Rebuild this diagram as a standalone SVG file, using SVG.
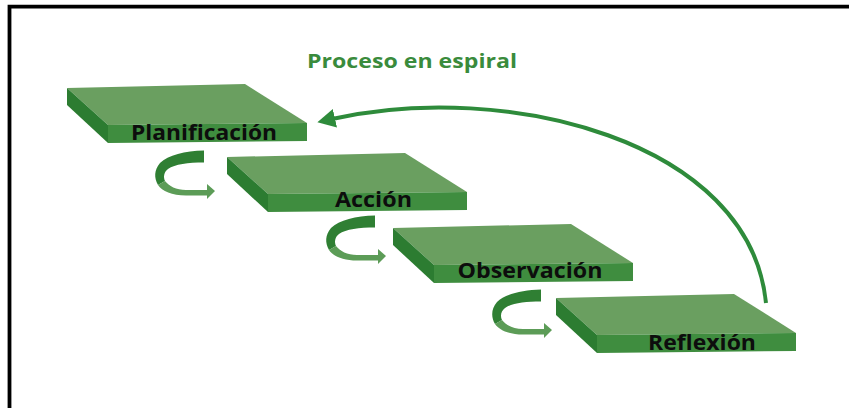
<svg xmlns="http://www.w3.org/2000/svg" width="849" height="408" viewBox="0 0 849 408">
<defs>
<style>
.top{fill:#6a9f60}
.front{fill:#3f8d3f}
.side{fill:#2c7c31}
.lbl{font-family:"Open Sans","Noto Sans","DejaVu Sans",sans-serif;font-weight:700;font-size:21px;fill:#0d0d0d;text-anchor:middle}
.title{font-family:"Open Sans","Noto Sans","DejaVu Sans",sans-serif;font-weight:700;font-size:20px;fill:#3a8b3c;text-anchor:middle}
.arc{fill:none;stroke:#2e8b3b;stroke-width:4}
.cdark{fill:#2f7f33}
.clight{fill:#5c9c57}
</style>
<g id="slab">
<path class="top" d="M0,0 L178,-4 L240,35 L41,37 Z"/>
<path class="front" d="M41,37 L240,35 L240,53 L41,55 Z"/>
<path class="side" d="M0,0 L41,37 L41,55 L0,17 Z"/>
</g>
<g id="loop">
<path class="cdark" d="M204,150.5 C185,151 168,155 160,163 C154,170 154,178 158,185 L165,181 C163,177 164,172 168,169 C175,164 188,162.5 204,162.5 Z"/>
<path class="clight" d="M158,185 C162,191 172,195.5 186,195.5 L207,195.5 L207,199 L215,191 L207,184 L207,190 L186,190 C176,190 169,186 165,181 Z"/>
</g>
<marker id="head" viewBox="0 0 18 19" markerWidth="18" markerHeight="19" refX="3" refY="9.5" orient="auto" markerUnits="userSpaceOnUse">
<path d="M0,0 L18,9.5 L0,19 Z" fill="#2e8b3b"/>
</marker>
</defs>
<rect width="849" height="408" fill="#fff"/>
<path d="M9.5,408 V6.7 H849" fill="none" stroke="#000" stroke-width="3.8"/>
<text class="title" x="412" y="68" textLength="210" lengthAdjust="spacingAndGlyphs">Proceso en espiral</text>
<g id="planificacion">
<use href="#slab" transform="translate(67,88)"/>
<text class="lbl" x="204" y="140" textLength="146" lengthAdjust="spacingAndGlyphs">Planificación</text>
</g>
<g id="accion">
<use href="#slab" transform="translate(227,157)"/>
<text class="lbl" x="373.5" y="207" textLength="77" lengthAdjust="spacingAndGlyphs">Acción</text>
</g>
<g id="observacion">
<use href="#slab" transform="translate(393,228)"/>
<text class="lbl" x="530" y="278" textLength="145" lengthAdjust="spacingAndGlyphs">Observación</text>
</g>
<g id="reflexion">
<use href="#slab" transform="translate(556,298)"/>
<text class="lbl" x="702" y="350" textLength="108" lengthAdjust="spacingAndGlyphs">Reflexión</text>
</g>
<g id="connectors">
<path class="arc" d="M766,303 C750,140 505,80 332,119" marker-end="url(#head)"/>
<use href="#loop"/>
<use href="#loop" transform="translate(171,65)"/>
<use href="#loop" transform="translate(337,139)"/>
</g>
</svg>
